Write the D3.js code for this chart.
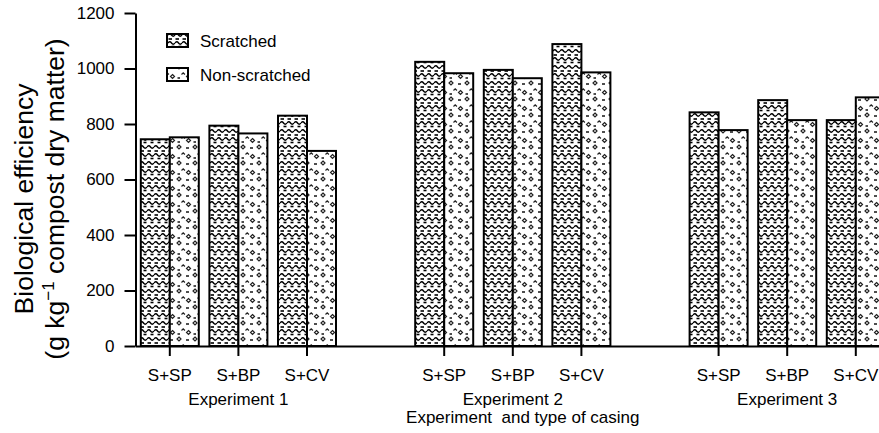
<!DOCTYPE html>
<html>
<head>
<meta charset="utf-8">
<script src="https://cdn.jsdelivr.net/npm/d3@7"></script>
<style>
  html, body { margin: 0; padding: 0; background: #fff; }
  svg { display: block; font-family: "Liberation Sans", Arial, sans-serif; }
</style>
</head>
<body>
<svg id="chart" width="879" height="433"></svg>
<script>
// ---- data ----
const experiments = ["Experiment 1", "Experiment 2", "Experiment 3"];
const casings = ["S+SP", "S+BP", "S+CV"];
const seriesNames = ["Scratched", "Non-scratched"];
const scratched    = [745, 794, 830, 1024, 995, 1088, 842, 886, 814];
const nonScratched = [752, 766, 703, 983, 965, 986, 778, 814, 896];
const yTicks = [0, 200, 400, 600, 800, 1000, 1200];
const xTitle = "Experiment  and type of casing";

// ---- build rows ----
const rows = [];
experiments.forEach((e, ei) => casings.forEach((c, ci) => {
  const k = ei * 3 + ci;
  rows.push({ slot: ei * 4 + ci, exp: ei, casing: c, values: [scratched[k], nonScratched[k]] });
}));

const FS = 17;
const svg = d3.select("#chart");
const x0 = 135.5, slotW = 68.6;
const x = d3.scaleBand().domain(d3.range(11)).range([x0, x0 + 11 * slotW]).padding(0);
const xSub = d3.scaleBand().domain(seriesNames).range([-29, 29]).padding(0);
const y = d3.scaleLinear().domain([0, 1200]).range([346, 13]);

// ---- patterns ----
const defs = svg.append("defs");
const pS = defs.append("pattern").attr("id", "pScr").attr("patternUnits", "userSpaceOnUse")
  .attr("width", 7).attr("height", 16);
pS.append("rect").attr("width", 7).attr("height", 16).attr("fill", "#fff");
pS.append("path").attr("d", "M0,3 Q1.75,0.6 3.5,3 T7,3").attr("fill", "none").attr("stroke", "#000").attr("stroke-width", 1.4);
pS.append("path").attr("d", "M0.5,7 h3.5").attr("stroke", "#000").attr("stroke-width", 1.6);
pS.append("path").attr("d", "M0,11 Q1.75,8.6 3.5,11 T7,11").attr("fill", "none").attr("stroke", "#000").attr("stroke-width", 1.4);
pS.append("path").attr("d", "M3.5,14.5 h3").attr("stroke", "#000").attr("stroke-width", 1.6);

const pN = defs.append("pattern").attr("id", "pNon").attr("patternUnits", "userSpaceOnUse")
  .attr("width", 16).attr("height", 16);
pN.append("rect").attr("width", 16).attr("height", 16).attr("fill", "#fff");
pN.append("path").attr("d", "M3,1 l2,2 l-2,2 l-2,-2 z").attr("fill", "none").attr("stroke", "#222").attr("stroke-width", 1.2);
pN.append("path").attr("d", "M10,4 h3").attr("stroke", "#222").attr("stroke-width", 1.6);
pN.append("path").attr("d", "M5.5,10.5 l1.7,-1.7 l1.7,1.7").attr("fill", "none").attr("stroke", "#222").attr("stroke-width", 1.2);
pN.append("path").attr("d", "M12.5,10.5 l2,2 l-2,2 l-2,-2 z").attr("fill", "none").attr("stroke", "#222").attr("stroke-width", 1.2);
pN.append("path").attr("d", "M1.5,14 h2.5").attr("stroke", "#222").attr("stroke-width", 1.6);
const fills = { "Scratched": "url(#pScr)", "Non-scratched": "url(#pNon)" };

// ---- bars ----
const g = svg.append("g");
rows.forEach(r => {
  const cx = x(r.slot) + x.bandwidth() / 2;
  seriesNames.forEach((s, si) => {
    g.append("rect")
      .attr("x", cx + xSub(s))
      .attr("y", y(r.values[si]))
      .attr("width", xSub.bandwidth())
      .attr("height", y(0) - y(r.values[si]))
      .attr("fill", fills[s])
      .attr("stroke", "#000")
      .attr("stroke-width", 2);
  });
});

// ---- axes ----
const xAxis = d3.axisBottom(x)
  .tickValues(rows.map(r => r.slot))
  .tickFormat(i => casings[i % 4])
  .tickSizeInner(10).tickSizeOuter(0).tickPadding(13);
const gx = svg.append("g").attr("transform", `translate(0,${y(0)})`).call(xAxis);
gx.select(".domain").attr("stroke-width", 2);
gx.selectAll(".tick line").attr("stroke-width", 2);
gx.selectAll("text").attr("font-size", FS).attr("font-family", "Liberation Sans, Arial, sans-serif").attr("fill", "#000");

const yAxis = d3.axisLeft(y).tickValues(yTicks).tickFormat(d3.format("d"))
  .tickSizeInner(11).tickSizeOuter(0).tickPadding(10);
const gy = svg.append("g").attr("transform", `translate(${x0},0)`).call(yAxis);
gy.select(".domain").attr("stroke-width", 2);
gy.selectAll(".tick line").attr("stroke-width", 2);
gy.selectAll("text").attr("font-size", FS).attr("font-family", "Liberation Sans, Arial, sans-serif").attr("fill", "#000");

// experiment labels
experiments.forEach((e, ei) => {
  svg.append("text")
    .attr("x", x(ei * 4 + 1) + x.bandwidth() / 2)
    .attr("y", 405)
    .attr("text-anchor", "middle")
    .attr("font-size", FS)
    .text(e);
});
svg.append("text")
  .attr("x", x(5) + x.bandwidth() / 2 + 10)
  .attr("y", 423)
  .attr("text-anchor", "middle")
  .attr("font-size", 17)
  .style("white-space", "pre")
  .text(xTitle);

// y title
svg.append("text")
  .attr("transform", "translate(33,199) rotate(-90)")
  .attr("text-anchor", "middle")
  .attr("font-size", 26.5)
  .text("Biological efficiency");
const t2 = svg.append("text")
  .attr("transform", "translate(64,199) rotate(-90)")
  .attr("text-anchor", "middle")
  .attr("font-size", 26.5);
t2.append("tspan").text("(g kg");
t2.append("tspan").attr("dy", -10).attr("font-size", 17).text("\u22121");
t2.append("tspan").attr("dy", 10).text(" compost dry matter)");

// legend
const legendY = [34, 68];
seriesNames.forEach((s, i) => {
  svg.append("rect")
    .attr("x", 167).attr("y", legendY[i])
    .attr("width", 21).attr("height", 13)
    .attr("fill", fills[s]).attr("stroke", "#000").attr("stroke-width", 2);
  svg.append("text")
    .attr("x", 200).attr("y", legendY[i] + 12.5)
    .attr("font-size", FS)
    .text(s);
});
</script>
</body>
</html>
